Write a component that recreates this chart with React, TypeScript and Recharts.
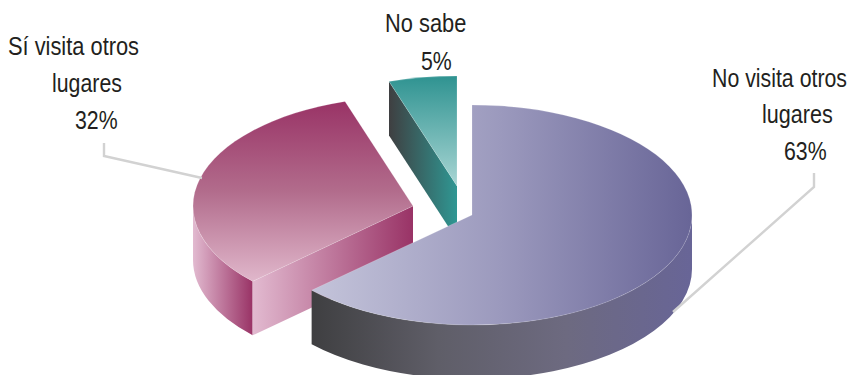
import { PieChart, Pie } from 'recharts';

// Share of people who visit other places
const categories = ['No sabe', 'Sí visita otros lugares', 'No visita otros lugares'];
const values = [5, 32, 63];
const labelLines = [['No sabe'], ['Sí visita otros', 'lugares'], ['No visita otros', 'lugares']];

const chartData = categories.map((name, i) => ({ name, value: values[i] }));

const WIDTH = 853;
const HEIGHT = 375;
const CX = 472;
const CY = 215;
const RX = 220;
const RY = 110;
const DEPTH = 54;

// how far each slice is pulled out of the pie
const explode = [
  { dx: -15, dy: -29 },
  { dx: -59, dy: -9 },
  { dx: 0, dy: 0 },
];

const LABEL_FONT = '"Liberation Sans", Arial, sans-serif';

// x, baseline and horizontal squeeze of each text line (name lines, then the percentage)
const labelPos = [
  { xs: [385, 421], ys: [32, 70], sx: [0.84, 0.82] },
  { xs: [8, 52, 75], ys: [55, 92, 129], sx: [0.84, 0.82, 0.82] },
  { xs: [712, 762, 784], ys: [87, 123, 160], sx: [0.82, 0.83, 0.82] },
];

const leaders = [
  null,
  '104,143 104,156 202,178',
  '814,173 814,187 673,312',
];

const rad = (a: number) => (a * Math.PI) / 180;

function SliceShape(props: any) {
  const { cx, cy, outerRadius, startAngle, endAngle, index } = props;
  const squash = RY / RX;
  const ox = cx + explode[index].dx;
  const oy = cy + explode[index].dy;
  const rx = outerRadius;
  const ry = outerRadius * squash;
  const pt = (a: number, drop = 0) => [ox + rx * Math.cos(rad(a)), oy - ry * Math.sin(rad(a)) + drop];

  const [sx, sy] = pt(startAngle);
  const [ex, ey] = pt(endAngle);
  const large = endAngle - startAngle > 180 ? 1 : 0;
  const top = `M${ox},${oy} L${sx},${sy} A${rx},${ry} 0 ${large} 0 ${ex},${ey} Z`;

  // outer wall only shows on the front half of the ellipse
  const wallFrom = Math.max(startAngle, 180);
  const wallTo = Math.min(endAngle, 360);
  let wall = null;
  if (wallTo > wallFrom) {
    const [ax, ay] = pt(wallFrom);
    const [bx, by] = pt(wallTo);
    const [cx2, cy2] = pt(wallTo, DEPTH);
    const [dx2, dy2] = pt(wallFrom, DEPTH);
    wall = `M${ax},${ay} A${rx},${ry} 0 0 0 ${bx},${by} L${cx2},${cy2} A${rx},${ry} 0 0 1 ${dx2},${dy2} Z`;
  }

  // the cut face at the end angle is visible when it looks toward the viewer
  const cutVisible = Math.cos(rad(endAngle)) < -0.001;
  const cut = cutVisible
    ? `M${ox},${oy} L${ex},${ey} L${ex},${ey + DEPTH} L${ox},${oy + DEPTH} Z`
    : null;

  return (
    <g>
      {wall && <path d={wall} fill={`url(#wall${index})`} />}
      {cut && <path d={cut} fill={`url(#cut${index})`} />}
      <path d={top} fill={`url(#top${index})`} stroke="#ffffff" strokeOpacity={0.3} strokeWidth={0.6} />
    </g>
  );
}

function SliceLabel(props: any) {
  const { index, value } = props;
  const lines = [...labelLines[index], `${value}%`];
  const pos = labelPos[index];
  return (
    <g>
      {leaders[index] && <polyline points={leaders[index]!} fill="none" stroke="#d2d2d2" strokeWidth={2.4} />}
      {lines.map((line, i) => (
        <text
          key={i}
          transform={`translate(${pos.xs[i]},${pos.ys[i]}) scale(${pos.sx[i]},1)`}
          fontFamily={LABEL_FONT}
          fontSize={26}
          fill="#231f20"
        >
          {line}
        </text>
      ))}
    </g>
  );
}

function Linear({ id, stops, vertical }: { id: string; stops: string[]; vertical?: boolean }) {
  return (
    <linearGradient id={id} x1="0" y1="0" x2={vertical ? '0' : '1'} y2={vertical ? '1' : '0'}>
      {stops.map((c, i) => (
        <stop key={i} offset={i / (stops.length - 1)} stopColor={c} />
      ))}
    </linearGradient>
  );
}

export default function App() {
  return (
    <div style={{ position: 'absolute', left: 0, top: 0, width: WIDTH, height: HEIGHT, background: '#fff' }}>
      <PieChart width={WIDTH} height={HEIGHT} margin={{ top: 0, right: 0, bottom: 0, left: 0 }}>
        <defs>
          <Linear id="top0" vertical stops={['#2f9391', '#a9d6d4']} />
          <Linear id="cut0" stops={['#3f3f41', '#2f9793']} />
          <Linear id="top1" vertical stops={['#993366', '#b26c8c', '#e0b7cb']} />
          <Linear id="wall1" stops={['#e2bad0', '#993366']} />
          <Linear id="cut1" stops={['#e2bad0', '#993366']} />
          <Linear id="top2" stops={['#c4c4da', '#9b99bd', '#686597']} />
          <Linear id="wall2" stops={['#3f3f41', '#5f5e68', '#6d6a80', '#686597']} />
        </defs>
        <Pie
          data={chartData}
          dataKey="value"
          nameKey="name"
          cx={CX}
          cy={CY}
          outerRadius={RX}
          startAngle={90}
          endAngle={450}
          paddingAngle={0}
          stroke="none"
          shape={SliceShape}
          label={SliceLabel}
          labelLine={false}
          isAnimationActive={false}
        />
      </PieChart>
    </div>
  );
}
